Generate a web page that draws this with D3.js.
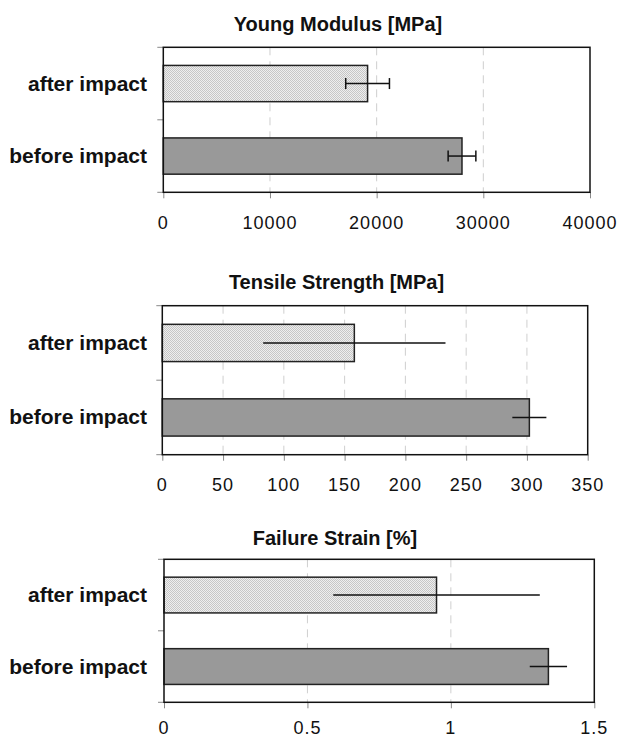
<!DOCTYPE html>
<html><head><meta charset="utf-8">
<script src="https://cdn.jsdelivr.net/npm/d3@7"></script>
<style>html,body{margin:0;padding:0;background:#fff;}</style>
</head><body>
<script>
const categories = ["after impact", "before impact"];
const titles = ["Young Modulus [MPa]", "Tensile Strength [MPa]", "Failure Strain [%]"];
const youngMeans = [19150, 28000];
const youngErr = [2050, 1300];
const tensileMeans = [158, 302];
const tensileErr = [75, 14];
const strainMeans = [0.95, 1.34];
const strainErr = [0.36, 0.065];
const youngTicks = [0, 10000, 20000, 30000, 40000];
const tensileTicks = [0, 50, 100, 150, 200, 250, 300, 350];
const strainTicks = [0, 0.5, 1, 1.5];
const strainTickLabels = ["0", "0.5", "1", "1.5"];

const W = 619, H = 739;
const svg = d3.select("body").append("svg").attr("width", W).attr("height", H);
const defs = svg.append("defs");
const pat = defs.append("pattern").attr("id", "dots").attr("width", 2).attr("height", 2)
  .attr("patternUnits", "userSpaceOnUse");
pat.append("rect").attr("width", 2).attr("height", 2).attr("fill", "#eeeeee");
pat.append("rect").attr("x", 0).attr("y", 0).attr("width", 1).attr("height", 1).attr("fill", "#c6c6c6");
pat.append("rect").attr("x", 1).attr("y", 1).attr("width", 1).attr("height", 1).attr("fill", "#c6c6c6");

const panels = [
  {title: titles[0], means: youngMeans, err: youngErr, ticks: youngTicks, labels: youngTicks.map(String),
   max: 40000, left: 163.3, right: 590, top: 47.3, bottom: 192.3, titleX: 338, titleY: 31, tickY: 228.5, caps: true},
  {title: titles[1], means: tensileMeans, err: tensileErr, ticks: tensileTicks, labels: tensileTicks.map(String),
   max: 350, left: 162.3, right: 587.7, top: 305.7, bottom: 454.7, titleX: 336.5, titleY: 288.7, tickY: 490.5, caps: false},
  {title: titles[2], means: strainMeans, err: strainErr, ticks: strainTicks, labels: strainTickLabels,
   max: 1.5, left: 164, right: 594.3, top: 559.3, bottom: 702.3, titleX: 335, titleY: 545, tickY: 734, caps: false}
];

const font = "'Liberation Sans', Arial, Helvetica, sans-serif";

panels.forEach(p => {
  const g = svg.append("g");
  const x = d3.scaleLinear().domain([0, p.max]).range([p.left, p.right]);
  const y = d3.scaleBand().domain(categories).range([p.top, p.bottom]).paddingInner(0.5).paddingOuter(0.25);

  g.append("text").attr("x", p.titleX).attr("y", p.titleY).attr("text-anchor", "middle")
    .attr("font-family", font).attr("font-weight", "bold").attr("font-size", 20).attr("fill", "#111")
    .text(p.title);

  // gridlines
  g.selectAll("line.grid").data(p.ticks.slice(1, -1)).enter().append("line")
    .attr("x1", d => x(d)).attr("x2", d => x(d)).attr("y1", p.top).attr("y2", p.bottom)
    .attr("stroke", "#cfcfcf").attr("stroke-width", 1).attr("stroke-dasharray", "8,6");

  // x axis
  const xAxis = d3.axisBottom(x).tickValues(p.ticks).tickSize(6).tickSizeOuter(0)
    .tickFormat((d, i) => p.labels[i]);
  const xa = g.append("g").attr("transform", `translate(0,${p.bottom})`).call(xAxis);
  xa.select(".domain").remove();
  xa.selectAll(".tick line").attr("stroke", "#888");
  xa.selectAll(".tick text").remove();
  g.selectAll("text.tl").data(p.ticks).enter().append("text")
    .attr("x", d => x(d)).attr("y", p.tickY).attr("text-anchor", "middle")
    .attr("font-family", font).attr("font-size", 18).attr("letter-spacing", 1).attr("fill", "#111")
    .text((d, i) => p.labels[i]);

  // y ticks
  g.selectAll("line.yt").data([p.top, (p.top + p.bottom) / 2, p.bottom]).enter().append("line")
    .attr("x1", p.left - 6).attr("x2", p.left).attr("y1", d => d).attr("y2", d => d)
    .attr("stroke", "#888").attr("stroke-width", 1);

  // bars
  g.selectAll("rect.bar").data(categories).enter().append("rect")
    .attr("x", x(0)).attr("y", d => y(d)).attr("width", (d, i) => x(p.means[i]) - x(0))
    .attr("height", y.bandwidth())
    .attr("fill", (d, i) => i === 0 ? "url(#dots)" : "#999999")
    .attr("stroke", "#222").attr("stroke-width", 1.5);

  // error bars
  categories.forEach((c, i) => {
    const cy = y(c) + y.bandwidth() / 2;
    const x1 = x(p.means[i] - p.err[i]), x2 = x(p.means[i] + p.err[i]);
    g.append("line").attr("x1", x1).attr("x2", x2).attr("y1", cy).attr("y2", cy)
      .attr("stroke", "#111").attr("stroke-width", 1.5);
    if (p.caps) {
      [x1, x2].forEach(xx => g.append("line").attr("x1", xx).attr("x2", xx)
        .attr("y1", cy - 5.5).attr("y2", cy + 5.5).attr("stroke", "#111").attr("stroke-width", 1.5));
    }
  });

  // frame
  g.append("rect").attr("x", p.left).attr("y", p.top).attr("width", p.right - p.left)
    .attr("height", p.bottom - p.top).attr("fill", "none").attr("stroke", "#111").attr("stroke-width", 1.5);

  // category labels
  g.selectAll("text.cl").data(categories).enter().append("text")
    .attr("x", 147).attr("y", d => y(d) + y.bandwidth() / 2 + 7).attr("text-anchor", "end")
    .attr("font-family", font).attr("font-weight", "bold").attr("font-size", 21).attr("fill", "#111")
    .text(d => d);
});
</script>
</body></html>
